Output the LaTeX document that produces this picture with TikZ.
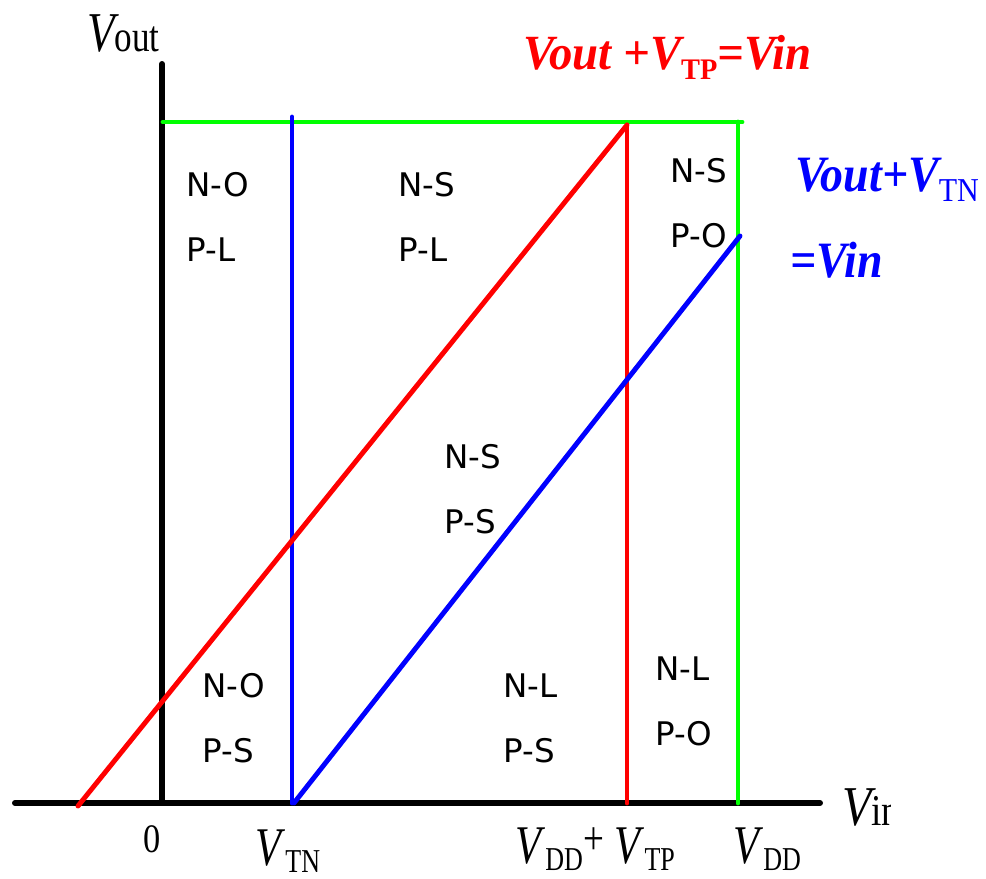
\documentclass[tikz,border=0pt]{standalone}
\usepackage{fontspec}
\setmainfont{Liberation Serif}
\newfontfamily\regionfont{DejaVu Sans}
\usepackage{xcolor}
\usepackage{graphicx}
\usepackage{tikz}

\definecolor{lgreen}{RGB}{0,255,0}
\newcommand{\fsz}[1]{\fontsize{#1}{#1}\selectfont}
\newcommand{\squeeze}[2]{\scalebox{#1}[1]{#2}}
\newcommand{\Vlab}[1]{\textit{V}\raisebox{-4.5pt}{\fsz{19}#1}}

\tikzset{
    axisline/.style={black, line width=3.4pt, line cap=round},
    curve/.style={line width=2.8pt, line cap=round},
    region/.style={font=\regionfont\fsz{18.5}, anchor=base west, inner sep=0pt},
    ticklab/.style={font=\fsz{31}, anchor=base west, inner sep=0pt},
}

\begin{document}
\begin{tikzpicture}[x=0.02cm, y=-0.02cm]
                    \useasboundingbox (0,0) rectangle (986,878);
                    \coordinate (ytop) at (162,64);
                    \coordinate (o) at (162,803);
                    \coordinate (xleft) at (15,803);
                    \coordinate (xright) at (820,803);
                    \draw[axisline] (xleft) -- (xright);
                    \draw[axisline] (o) -- (ytop);

                    \coordinate (tn) at (292,803);
                    \coordinate (tntop) at (292,117);
                    \coordinate (tp) at (627,803);
                    \coordinate (tptop) at (627,125);
                    \coordinate (dd) at (738,803);
                    \coordinate (ddtop) at (738,122);
                    \coordinate (gleft) at (163,122);
                    \coordinate (gright) at (742,122);
                    \coordinate (rstart) at (78,806);
                    \coordinate (bstart) at (294,803);
                    \coordinate (bend) at (740,236);

                    \draw[curve, lgreen] (gleft) -- (gright);
                    \draw[curve, lgreen] (ddtop) -- (dd);
                    \draw[curve, blue] (tntop) -- (tn);
                    \draw[curve, red] (tptop) -- (tp);
                    \draw[curve, red] (rstart) -- (tptop);
                    \draw[curve, blue] (bstart) -- (bend);

                    \foreach \x/\y/\up/\dn [count=\i] in {186/197/N-O/P-L, 398/197/N-S/P-L, 670/183/N-S/P-O,
                                                           444/468/N-S/P-S, 202/697/N-O/P-S, 503/697/N-L/P-S,
                                                           655/680/N-L/P-O} {
                        \node[region] (up\i) at (\x,\y) {\up};
                        \node[region] (dn\i) at (\x,\y+65) {\dn};
                    }

                    \node[anchor=base west, inner sep=0pt] (vout) at (87,52)
                        {\squeeze{0.8}{{\fsz{32}\itshape V}{\fsz{25}out}}};
                    \begin{scope}
                        \clip (0,0) rectangle (890,878);
                        \node[anchor=base west, inner sep=0pt] (vin) at (842,825)
                            {\squeeze{0.85}{{\fsz{32}\itshape V}{\fsz{25}in}}};
                    \end{scope}

                    \node[anchor=base, inner sep=0pt, font=\fsz{23}] (zero) at (152,852) {\squeeze{0.85}{0}};
                    \node[ticklab] (vtn) at (255,865) {\squeeze{0.78}{\Vlab{TN}}};
                    \node[ticklab] (vddtp) at (515,863)
                        {\squeeze{0.78}{\Vlab{DD}\raisebox{5pt}{\fsz{27}+}\ \Vlab{TP}}};
                    \node[ticklab] (vdd) at (733,863) {\squeeze{0.78}{\Vlab{DD}}};

                    \node[anchor=base west, inner sep=0pt, red] (ptitle) at (523,70)
                        {\squeeze{0.95}{{\fsz{28}\bfseries\itshape Vout +V}\raisebox{-5.5pt}{\fsz{17}\bfseries TP}{\fsz{28}\bfseries\itshape =Vin}}};
                    \node[anchor=base west, inner sep=0pt, blue] (ntitle) at (795,192)
                        {\squeeze{0.9}{{\fsz{29}\bfseries\itshape Vout+V}\raisebox{-5.5pt}{\fsz{19}TN}}};
                    \node[anchor=base west, inner sep=0pt, blue] (ntitleb) at (790,277)
                        {\squeeze{0.9}{{\fsz{29}\bfseries\itshape =Vin}}};
                \end{tikzpicture}
\end{document}
